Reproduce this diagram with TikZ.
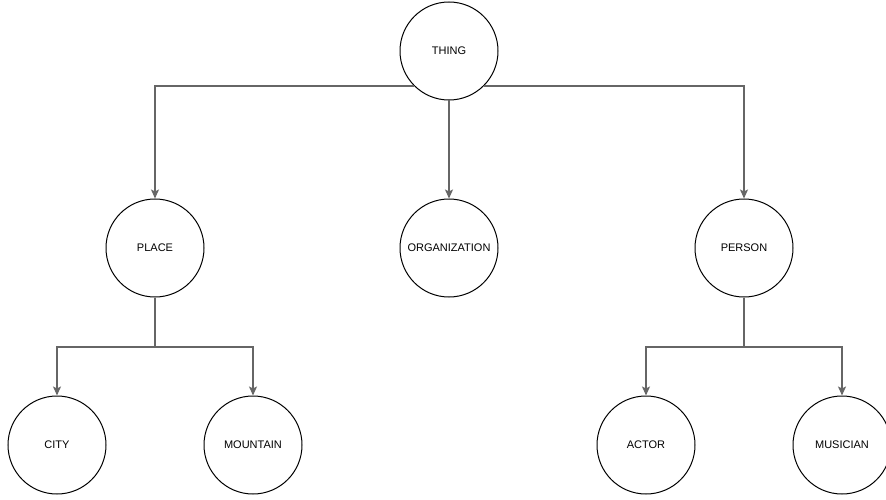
\documentclass[tikz,border=0pt]{standalone}
\usepackage{fontspec}
\setmainfont{Liberation Sans}
\usetikzlibrary{arrows.meta}
\definecolor{linegray}{RGB}{102,102,102}
\begin{document}
\begin{tikzpicture}[x=1pt,y=-1pt,
  ent/.style={circle,draw=black,line width=1pt,minimum size=98pt,inner sep=0pt,font=\fontsize{11}{13}\selectfont},
  link/.style={draw=linegray,line width=1.3pt},
  conn/.style={link,-{Stealth[length=9pt,width=8pt,inset=2pt]}}]
\useasboundingbox (0,0) rectangle (886,500);
\node[ent] (thing) at (449,51) {THING};
\node[ent] (place) at (155,248) {PLACE};
\node[ent] (org) at (449,248) {ORGANIZATION};
\node[ent] (person) at (744,248) {PERSON};
\node[ent] (city) at (57,445) {CITY};
\node[ent] (mountain) at (253,445) {MOUNTAIN};
\node[ent] (actor) at (646,445) {ACTOR};
\node[ent] (musician) at (842,445) {MUSICIAN};
\coordinate (pj) at (155,347);
\coordinate (rj) at (744,347);
\draw[conn] (thing.south west) -| (place.north);
\draw[conn] (thing.south east) -| (person.north);
\draw[conn] (thing.south) -- (org.north);
\draw[link] (place.south) -- (pj);
\draw[conn] (pj) -| (city.north);
\draw[conn] (pj) -| (mountain.north);
\draw[link] (person.south) -- (rj);
\draw[conn] (rj) -| (actor.north);
\draw[conn] (rj) -| (musician.north);
\end{tikzpicture}
\end{document}
